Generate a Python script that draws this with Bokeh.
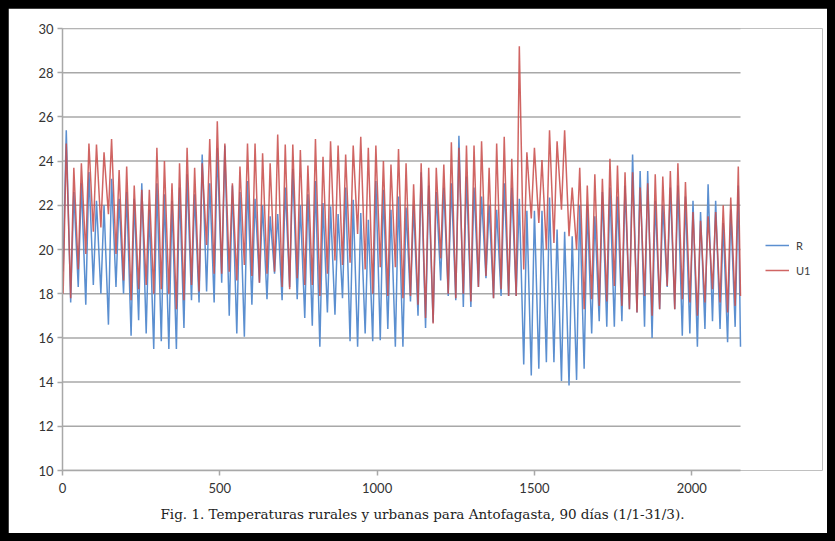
from bokeh.plotting import figure
from bokeh.models import Range1d, Legend, LegendItem, FixedTicker, Title
from bokeh.layouts import column
from bokeh.embed import file_html
from bokeh.resources import INLINE

# Daily extremes (90 days, hourly x axis)
R_max = [25.4, 22.6, 23.0, 23.5, 22.2, 22.0, 23.2, 22.3, 22.6, 22.3, 23.0, 21.8, 23.0, 22.5, 22.2, 22.8, 23.4, 22.5, 24.3, 23.0, 24.6, 24.7,
         22.9, 22.6, 23.1, 22.3, 22.0, 21.5, 21.6, 22.8, 23.65, 22.0, 22.5, 23.1, 22.1, 21.95, 21.6, 22.8, 22.25, 21.65, 21.35, 23.1, 22.7, 21.8, 22.4, 21.9,
         22.0, 23.5, 22.9, 22.6, 22.8, 23.0, 25.15, 23.3, 22.8, 22.4, 22.0, 21.8, 23.0, 22.8, 22.3, 21.75, 21.75, 21.75, 22.35, 20.9, 20.8, 20.6, 22.0,
         22.0, 21.5, 22.6, 22.8, 22.4, 22.9, 24.3, 23.55, 23.55, 22.2, 22.0, 22.8, 22.9, 22.4, 22.2, 21.7, 22.95, 22.2, 21.2, 21.8, 22.9]
R_min = [19.0, 17.6, 18.3, 17.5, 18.4, 18.0, 16.6, 18.3, 18.0, 16.1, 16.8, 16.2, 15.5, 15.85, 15.5, 15.5, 16.45, 17.7, 17.6, 18.1, 17.6, 18.5,
         17.0, 16.2, 16.05, 17.5, 18.5, 17.75, 18.9, 17.7, 18.3, 17.75, 16.9, 16.55, 15.6, 17.15, 17.05, 17.8, 15.85, 15.6, 16.2, 15.85, 15.9, 16.4, 15.6, 15.6,
         17.65, 17.0, 16.45, 16.7, 18.6, 17.9, 17.7, 17.4, 17.4, 18.3, 18.7, 17.8, 17.9, 17.9, 17.9, 14.8, 14.3, 14.6, 14.9, 14.9, 14.05, 13.85, 14.1,
         14.6, 16.2, 16.75, 16.5, 16.5, 16.75, 17.3, 17.15, 16.5, 16.0, 17.3, 18.3, 17.3, 16.1, 16.2, 15.6, 16.4, 16.75, 16.4, 15.8, 16.5]
U_max = [24.8, 23.7, 23.9, 24.8, 24.75, 24.4, 25.0, 23.6, 23.75, 22.9, 22.7, 22.7, 24.6, 24.0, 23.0, 23.9, 24.6, 23.7, 23.9, 25.0, 25.8, 24.8,
         23.0, 23.75, 24.8, 24.8, 24.35, 23.9, 25.2, 24.75, 24.75, 24.5, 23.8, 25.0, 24.2, 24.9, 24.7, 24.3, 24.7, 25.1, 24.6, 24.7, 24.0, 23.85, 24.55, 23.9,
         22.95, 23.9, 23.7, 23.7, 23.85, 24.85, 24.6, 24.7, 24.7, 24.9, 23.7, 24.8, 25.1, 24.1, 29.2, 24.4, 24.6, 24.05, 25.4, 24.9, 25.4, 22.8, 23.7,
         22.9, 23.4, 23.2, 24.1, 23.8, 23.5, 23.5, 22.8, 23.0, 23.4, 23.3, 23.55, 23.9, 23.05, 21.7, 21.3, 21.5, 21.7, 22.0, 22.35, 23.75]
U_min = [18.0, 17.8, 19.1, 19.8, 20.8, 21.0, 21.6, 19.8, 18.6, 17.7, 18.2, 18.4, 18.0, 18.2, 18.0, 17.3, 17.7, 18.4, 18.1, 20.2, 18.9, 18.9,
         19.0, 18.6, 19.3, 18.8, 18.5, 18.9, 19.0, 18.3, 18.2, 18.7, 18.4, 18.4, 17.9, 18.9, 19.5, 19.3, 19.4, 20.7, 19.1, 18.0, 19.2, 17.9, 19.2, 17.8,
         17.9, 17.5, 16.9, 16.65, 19.6, 18.0, 17.8, 18.0, 17.65, 18.3, 18.8, 17.8, 18.2, 17.9, 17.9, 19.1, 21.4, 21.2, 20.0, 20.3, 21.8, 20.6, 20.0,
         17.3, 17.75, 17.45, 17.65, 18.35, 17.45, 17.3, 17.15, 17.9, 17.0, 17.3, 18.35, 17.3, 17.75, 17.6, 17.0, 17.6, 18.2, 17.6, 17.15, 17.45]
R_end, U_end = 15.6, 17.9

x_ticks = [0, 500, 1000, 1500, 2000]
y_ticks = [10, 12, 14, 16, 18, 20, 22, 24, 26, 28, 30]
series_names = ["R", "U1"]
caption = "Fig. 1. Temperaturas rurales y urbanas para Antofagasta, 90 días (1/1-31/3)."

HOURS_PER_DAY = 24
TROUGH_HOUR = 2
PEAK_HOUR = 12
X_AXIS_END = 2155
LAST_HOUR = X_AXIS_END

# layout (pixels)
FIG_W, FIG_H = 819, 525
BORDER_L, BORDER_R, BORDER_T, BORDER_B = 54, 5, 20, 63
PLOT_AREA_W = 678          # width of the drawn axis area, legend sits to its right
FRAME_W = FIG_W - BORDER_L - BORDER_R
x_view_end = X_AXIS_END * FRAME_W / PLOT_AREA_W


def build(mins, maxs, end):
    xs, ys = [], []
    for d, (lo, hi) in enumerate(zip(mins, maxs)):
        xs += [HOURS_PER_DAY * d + TROUGH_HOUR, HOURS_PER_DAY * d + PEAK_HOUR]
        ys += [lo, hi]
    xs.append(LAST_HOUR)
    ys.append(end)
    return xs, ys


rx, ry = build(R_min, R_max, R_end)
ux, uy = build(U_min, U_max, U_end)

p = figure(width=FIG_W, height=FIG_H, x_range=Range1d(0, x_view_end), y_range=Range1d(10, 30),
           output_backend="svg", toolbar_location=None,
           min_border_left=BORDER_L, min_border_right=BORDER_R,
           min_border_top=BORDER_T, min_border_bottom=BORDER_B)
p.outline_line_color = None
p.background_fill_color = "white"
p.border_fill_color = "white"
p.xgrid.grid_line_color = None
p.ygrid.grid_line_color = None

# horizontal gridlines limited to the axis extent
p.segment(x0=[0] * len(y_ticks), x1=[X_AXIS_END] * len(y_ticks), y0=y_ticks, y1=y_ticks,
          line_color="#a8a8a8", line_width=1.5)

r1 = p.line(rx, ry, line_color="#5b8fd0", line_width=1.5)
r2 = p.line(ux, uy, line_color="#c9504d", line_width=1.5, line_alpha=0.88)

p.xaxis.ticker = FixedTicker(ticks=x_ticks)
p.yaxis.ticker = FixedTicker(ticks=y_ticks)
p.xaxis.bounds = (0, X_AXIS_END)
for ax in (p.xaxis[0], p.yaxis[0]):
    ax.axis_line_color = "#a8a8a8"
    ax.axis_line_width = 1.5
    ax.major_tick_line_color = "#a8a8a8"
    ax.major_tick_line_width = 1.5
    ax.major_tick_in = 0
    ax.major_tick_out = 5
    ax.minor_tick_line_color = None
    ax.major_label_text_font = "Lato"
    ax.major_label_text_font_size = "13px"
    ax.major_label_text_color = "#333333"
p.xaxis.major_label_standoff = 7
p.yaxis.major_label_standoff = 4

legend = Legend(items=[LegendItem(label=series_names[0], renderers=[r1]),
                       LegendItem(label=series_names[1], renderers=[r2])],
                location=(PLOT_AREA_W + 25, 190), border_line_color=None, background_fill_alpha=0,
                label_text_font="Lato", label_text_font_size="11px", label_text_color="#404040",
                glyph_width=24, glyph_height=20, spacing=5, padding=0, margin=0, label_standoff=7)
p.add_layout(legend)

p.add_layout(Title(text=caption, align="left", offset=98, standoff=16, text_font="DejaVu Serif",
                   text_font_size="13.5px", text_font_style="normal", text_color="#222222"), "below")

layout = column(p, styles={"background-color": "black", "padding": "8px"})

open("out.html", "w").write(file_html(layout, INLINE))
